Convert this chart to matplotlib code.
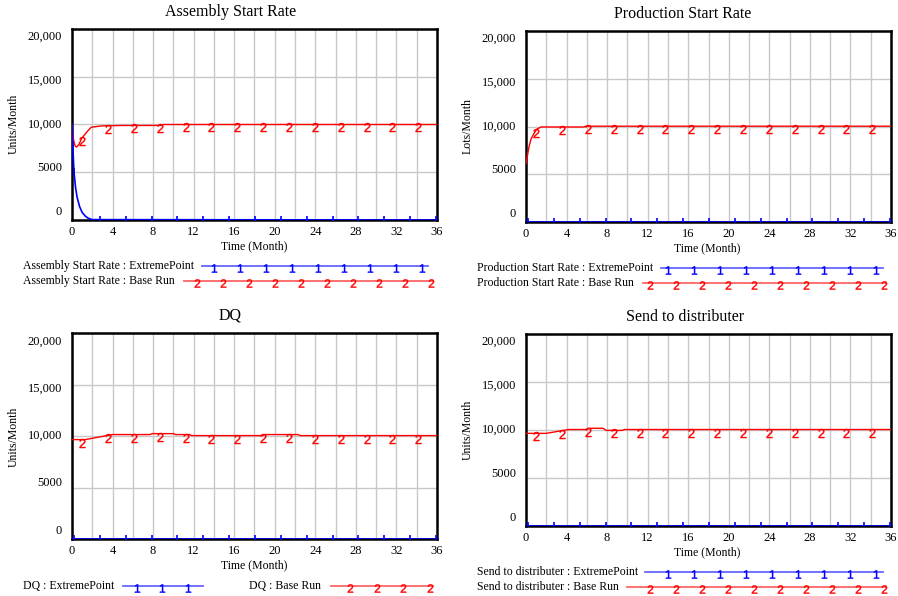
import numpy as np
import matplotlib.pyplot as plt
import matplotlib.transforms as mtransforms
from matplotlib.lines import Line2D

plt.rcParams['font.family'] = ['Liberation Serif', 'DejaVu Serif']
plt.rcParams['mathtext.fontset'] = 'custom'
plt.rcParams['mathtext.rm'] = 'Liberation Sans'
plt.rcParams['mathtext.it'] = 'Liberation Sans'

W, H = 898, 596

# time axis / tick values
month_ticks = list(range(0, 37, 2))
y_vals = [0, 5000, 10000, 15000, 20000]
y_labels = ['0', '5000', '10,000', '15,000', '20,000']

# run markers ("1" = ExtremePoint, "2" = Base Run)
marker_t_blue = [0.2, 2.75, 5.3, 7.85, 10.4, 12.95, 15.5, 18.05, 20.6, 23.15, 25.7, 28.25, 30.8, 33.35, 35.9]
marker_t_red = [1.0, 3.55, 6.1, 8.65, 11.2, 13.75, 16.3, 18.85, 21.4, 23.95, 26.5, 29.05, 31.6, 34.15]

# Assembly Start Rate
asr_blue_t = [0, 0.1, 0.2, 0.35, 0.5, 0.75, 1.0, 1.3, 1.6, 2.0, 36]
asr_blue_v = [10000, 7200, 5000, 3400, 2400, 1400, 800, 420, 180, 40, 0]
asr_red_t = [0, 0.15, 0.3, 0.46, 0.7, 0.95, 1.45, 1.9, 3.0, 5.0, 8.7, 9.0, 36]
asr_red_v = [10000, 8400, 7750, 7640, 7950, 8540, 9200, 9720, 9860, 9900, 9900, 10000, 10000]

# Production Start Rate
psr_blue_t = [0, 36]
psr_blue_v = [0, 0]
psr_red_t = [0, 0.15, 0.3, 0.5, 0.8, 1.1, 1.5, 5.7, 5.9, 36]
psr_red_v = [6100, 7000, 7900, 8700, 9300, 9750, 9950, 9950, 10030, 10030]

# DQ
dq_blue_t = [0, 36]
dq_blue_v = [0, 0]
dq_red_t = [0, 1.3, 4.0, 7.7, 7.9, 10.0, 10.2, 11.6, 11.8, 18.8, 19.0, 22.3, 22.5, 36]
dq_red_v = [9650, 9650, 10140, 10140, 10230, 10230, 10140, 10140, 10040, 10040, 10140, 10140, 10040, 10040]

# Send to distributer
sd_blue_t = [0, 36]
sd_blue_v = [0, 0]
sd_red_t = [0, 2.0, 4.2, 6.0, 6.2, 7.6, 7.9, 9.5, 9.7, 36]
sd_red_v = [9650, 9650, 10050, 10050, 10180, 10180, 9960, 9960, 10050, 10050]


fig = plt.figure(figsize=(W / 100, H / 100), dpi=100)


def fx(x):
    return x / W


def fy(y):
    return 1 - y / H


def panel(box, title, title_xy, ylabel, ylabel_xy, xlabel_xy, bt, bv, rt, rv):
    l, t, r, b = box
    ax = fig.add_axes([fx(l), fy(b), (r - l) / W, (b - t) / H])
    ax.set_xlim(0, 36)
    ax.set_ylim(0, 20000)
    ax.set_xticks(month_ticks)
    ax.set_xticklabels([str(m) if m % 4 == 0 else '' for m in month_ticks], fontsize=9)
    ax.set_yticks([5000, 10000, 15000])
    ax.set_yticklabels([])
    ax.tick_params(length=0, pad=4)
    ax.grid(True, color='#c8c8c8', lw=1)
    ax.set_axisbelow(True)
    for s in ax.spines.values():
        s.set_linewidth(1.8)
        s.set_color('black')

    # y labels sit slightly compressed toward the middle, like the original
    tr = mtransforms.blended_transform_factory(ax.transAxes, ax.transData)
    for v, lab in zip(y_vals, y_labels):
        ax.text(-10 / (r - l), 800 + 0.92 * v, lab, transform=tr,
                ha='right', va='center', fontsize=9)

    ax.plot(rt, rv, color='red', lw=1, zorder=3)
    off = mtransforms.offset_copy(ax.transData, fig=fig, y=-3, units='dots')
    ax.plot(marker_t_red, np.interp(marker_t_red, rt, rv), ls='none', marker='$2$',
            ms=6.5, mew=0.3, color='red', transform=off, zorder=3)

    ax.plot(bt, bv, color='blue', lw=1.2, zorder=4)
    ax.plot(marker_t_blue, np.interp(marker_t_blue, bt, bv), ls='none', marker='|',
            ms=6, mew=1.2, color='blue', zorder=4)

    fig.text(fx(title_xy[0]), fy(title_xy[1]), title, ha='center', va='center', fontsize=11.5)
    fig.text(fx(ylabel_xy[0]), fy(ylabel_xy[1]), ylabel, ha='center', va='center',
             rotation=90, fontsize=8.5)
    fig.text(fx(xlabel_xy[0]), fy(xlabel_xy[1]), 'Time (Month)', ha='center', va='center',
             fontsize=8.5)
    return ax


def legend_row(text, tx, y, x0, x1, marks, color, digit):
    fig.text(fx(tx), fy(y), text, ha='left', va='center', fontsize=8.5)
    fig.add_artist(Line2D([fx(x0), fx(x1)], [fy(y), fy(y)], color=color, lw=1.3,
                          alpha=0.6, transform=fig.transFigure))
    fig.add_artist(Line2D([fx(m) for m in marks], [fy(y + 2)] * len(marks), ls='none',
                          marker=digit, ms=6, mew=0.3, color=color, transform=fig.transFigure))


panel((72, 29, 437, 220), 'Assembly Start Rate', (231, 12), 'Units/Month', (14, 124),
      (254, 246), asr_blue_t, asr_blue_v, asr_red_t, asr_red_v)
panel((526, 31, 891, 222), 'Production Start Rate', (683, 14), 'Lots/Month', (468, 126),
      (707, 248), psr_blue_t, psr_blue_v, psr_red_t, psr_red_v)
panel((72, 333, 437, 539), 'DQ', (230, 315), 'Units/Month', (14, 437),
      (254, 565), dq_blue_t, dq_blue_v, dq_red_t, dq_red_v)
panel((526, 334, 891, 526), 'Send to distributer', (685, 317), 'Units/Month', (468, 430),
      (707, 552), sd_blue_t, sd_blue_v, sd_red_t, sd_red_v)

blue_marks_long = [214 + 26 * k for k in range(9)]
red_marks_long = [197 + 26 * k for k in range(10)]

legend_row('Assembly Start Rate : ExtremePoint', 23, 266, 202, 428, blue_marks_long, 'blue', '$1$')
legend_row('Assembly Start Rate : Base Run', 23, 281, 184, 433, red_marks_long, 'red', '$2$')
legend_row('Production Start Rate : ExtremePoint', 477, 268, 661, 883,
           [m + 454 for m in blue_marks_long], 'blue', '$1$')
legend_row('Production Start Rate : Base Run', 477, 283, 643, 886,
           [m + 453 for m in red_marks_long], 'red', '$2$')
legend_row('DQ : ExtremePoint', 23, 586, 123, 203, [137, 162, 188], 'blue', '$1$')
legend_row('DQ : Base Run', 249, 586, 331, 433, [350, 377, 403, 430], 'red', '$2$')
legend_row('Send to distributer : ExtremePoint', 477, 572, 645, 883,
           [m + 454 for m in blue_marks_long], 'blue', '$1$')
legend_row('Send to distributer : Base Run', 477, 587, 627, 886,
           [m + 453 for m in red_marks_long], 'red', '$2$')

fig.savefig('out.png', dpi=100)
